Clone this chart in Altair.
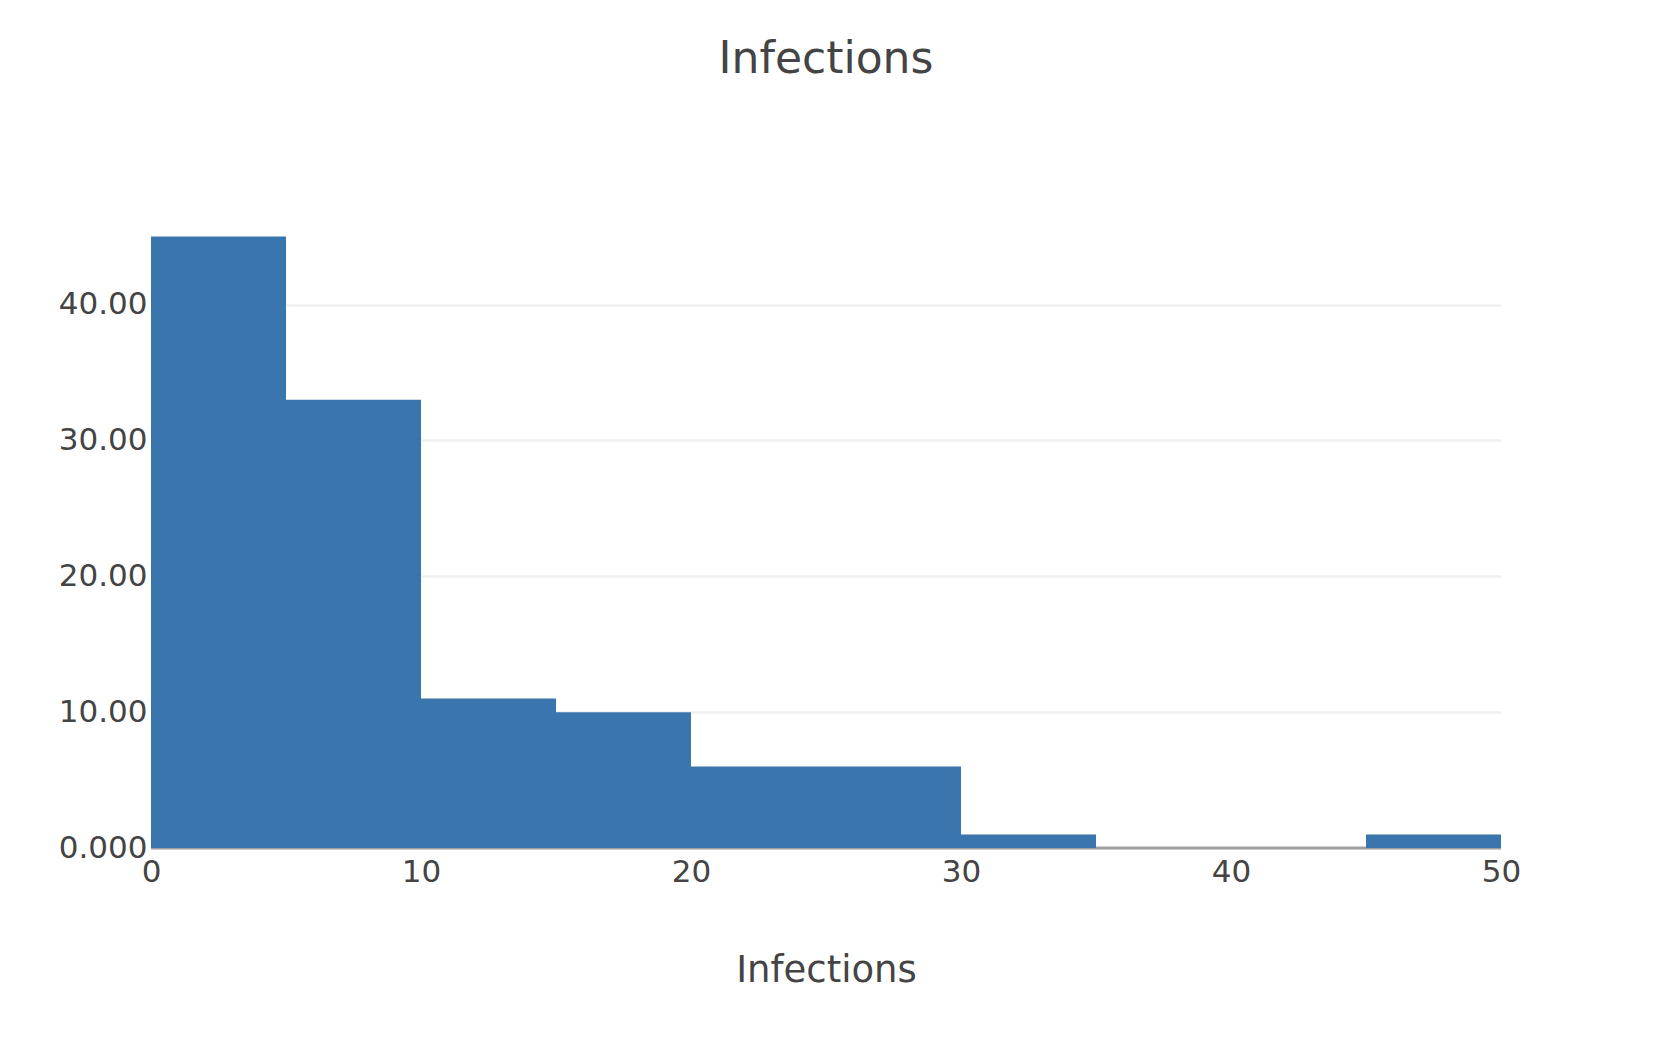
import altair as alt
import pandas as pd

bin_start = [0, 5, 10, 15, 20, 25, 30, 35, 40, 45]
bin_end = [5, 10, 15, 20, 25, 30, 35, 40, 45, 50]
counts = [45, 33, 11, 10, 6, 6, 1, 0, 0, 1]

y_ticks = [0, 10, 20, 30, 40]
x_ticks = [0, 10, 20, 30, 40, 50]

df = pd.DataFrame({"start": bin_start, "end": bin_end, "count": counts})
zero_df = pd.DataFrame({"zero": [0]})

FONT = "DejaVu Sans"
TXT = "#444444"

x_scale = alt.Scale(domain=[0, 50], nice=False, zero=False)
y_scale = alt.Scale(domain=[0, 47.4], nice=False)

bars = alt.Chart(df).mark_rect(color="#3a75ae").encode(
    x=alt.X("start:Q", scale=x_scale,
            axis=alt.Axis(values=x_ticks, title="Infections", grid=False, domain=False,
                          ticks=False, labelPadding=9, labelFontSize=31, labelFlush=False,
                          titleFontSize=37, titlePadding=65, titleFontWeight="normal")),
    x2="end:Q",
    y=alt.Y("count:Q", scale=y_scale,
            axis=alt.Axis(values=y_ticks, title=None, domain=False, ticks=False,
                          grid=True, gridColor="#f0f0f0", gridWidth=2.5,
                          labelPadding=4, labelFontSize=31,
                          labelExpr="datum.value == 0 ? '0.000' : format(datum.value, '.2f')")),
    y2=alt.datum(0),
)

zero_line = alt.Chart(zero_df).mark_rule(color="#a0a0a0", strokeWidth=3).encode(
    y=alt.Y("zero:Q", scale=y_scale),
)

chart = alt.layer(zero_line, bars).properties(
    width=1350,
    height=644,
    autosize=alt.AutoSizeParams(type="none"),
    padding={"left": 143, "top": 196, "right": 145, "bottom": 180},
    title=alt.TitleParams("Infections", fontSize=44, font=FONT, color=TXT,
                          fontWeight="normal", anchor="middle", baseline="alphabetic",
                          offset=87),
).configure_axis(
    labelFont=FONT, titleFont=FONT, labelColor=TXT, titleColor=TXT,
).configure_view(stroke=None)

chart.save("out.html", embed_options={"renderer": "svg", "actions": False})
